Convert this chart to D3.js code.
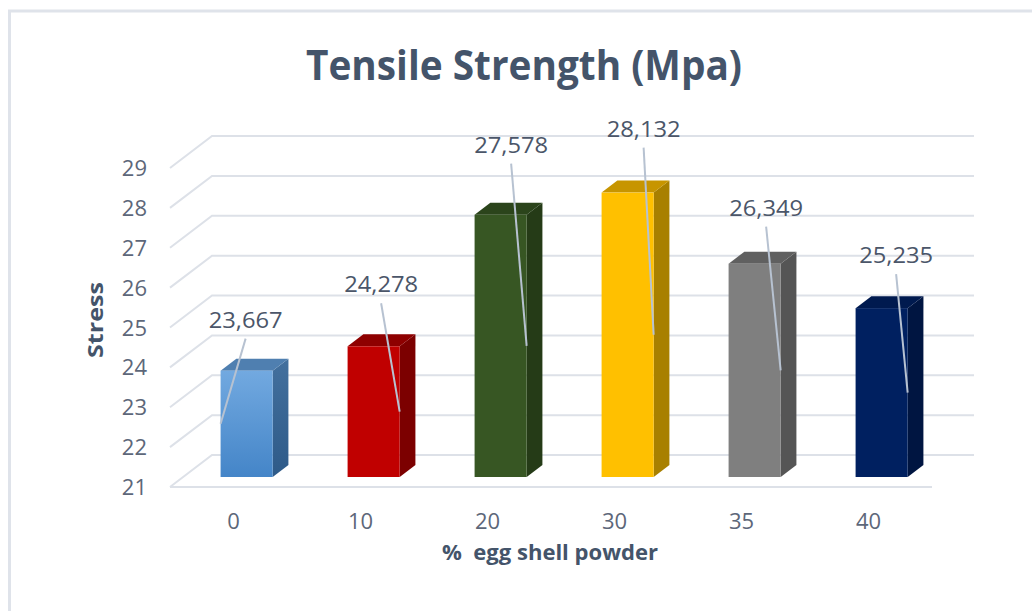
<!DOCTYPE html>
<html>
<head>
<meta charset="utf-8">
<script src="https://cdn.jsdelivr.net/npm/d3@7"></script>
<style>
  html, body { margin: 0; padding: 0; background: #ffffff; }
  svg { display: block; }
  text { font-family: "Open Sans", "Noto Sans", sans-serif; }
</style>
</head>
<body>
<svg id="chart" width="1032" height="611"></svg>
<script>
// Tensile strength of samples by egg shell powder content
const categories = ["0", "10", "20", "30", "35", "40"];
const stress = [23.667, 24.278, 27.578, 28.132, 26.349, 25.235];
const yTicks = [21, 22, 23, 24, 25, 26, 27, 28, 29];

// Front / side / top face colours of each column
const frontColors = ["url(#blueGrad)", "#c00000", "#375623", "#ffc000", "#7f7f7f", "#002060"];
const sideColors  = ["url(#blueSide)", "#7c0000", "#253b17", "#a88000", "#555555", "#001541"];
const topColors   = ["#4f7fb0", "#8e0000", "#2b441b", "#c79500", "#606060", "#001a4f"];

// Label placement relative to the top-centre of each column's front face
const labelNudge = [[-1, -51], [7.5, -62], [10.5, -70], [16, -64], [11.5, -56], [14.5, -53]];
// Which edge of the front face each leader line ends on
const leaderEdge = ["left", "right", "right", "right", "right", "right"];

const svg = d3.select("#chart");
const defs = svg.append("defs");
const g1 = defs.append("linearGradient").attr("id", "blueGrad").attr("x1", 0).attr("y1", 0).attr("x2", 0).attr("y2", 1);
g1.append("stop").attr("offset", "0%").attr("stop-color", "#72a9e0");
g1.append("stop").attr("offset", "100%").attr("stop-color", "#4485c8");
const g2 = defs.append("linearGradient").attr("id", "blueSide").attr("x1", 0).attr("y1", 0).attr("x2", 0).attr("y2", 1);
g2.append("stop").attr("offset", "0%").attr("stop-color", "#43709e");
g2.append("stop").attr("offset", "100%").attr("stop-color", "#2e5a88");

// Chart frame
svg.append("line").attr("x1", 8).attr("y1", 11).attr("x2", 1032).attr("y2", 11)
  .attr("stroke", "#dfe3ea").attr("stroke-width", 3);
svg.append("line").attr("x1", 9.5).attr("y1", 10).attr("x2", 9.5).attr("y2", 611)
  .attr("stroke", "#dfe3ea").attr("stroke-width", 3);

// Oblique 3D projection: front plane scales plus a depth offset
const x = d3.scaleBand().domain(categories).range([170, 932]).paddingInner(0.59).paddingOuter(0.295);
const y = d3.scaleLinear().domain([21, 29]).range([487, 168]);
const DX = 42, DY = -32;           // full depth of the floor
const F0 = 0.3125, F1 = 0.6875;    // depth slice occupied by the columns
const proj = (px, v, f) => [px + DX * f, y(v) + DY * f];
const backRight = 932 + DX;

// Gridlines: left wall diagonals + back wall horizontals
const grid = svg.append("g");
yTicks.forEach(t => {
  grid.append("path")
    .attr("d", `M170,${y(t)} L${170 + DX},${y(t) + DY} L${backRight},${y(t) + DY}`)
    .attr("fill", "none").attr("stroke", "#dde1e8").attr("stroke-width", 2);
});
// Floor front edge
grid.append("line").attr("x1", 170).attr("y1", y(21)).attr("x2", 932).attr("y2", y(21))
  .attr("stroke", "#dde1e8").attr("stroke-width", 2);

// Y tick labels
svg.append("g").selectAll("text").data(yTicks).join("text")
  .attr("x", 147).attr("y", d => y(d) + 8)
  .attr("text-anchor", "end").attr("font-size", 22).attr("fill", "#5d6779")
  .text(d => d);

// X tick labels
svg.append("g").selectAll("text").data(categories).join("text")
  .attr("x", d => x(d) + x.bandwidth() / 2).attr("y", 529)
  .attr("text-anchor", "middle").attr("font-size", 22).attr("fill", "#5d6779")
  .text(d => d);

// Columns
const bars = svg.append("g");
categories.forEach((c, i) => {
  const v = stress[i];
  const x0 = x(c), x1 = x(c) + x.bandwidth();
  const pts = a => a.map(p => p.join(",")).join(" ");
  // side face
  bars.append("polygon")
    .attr("points", pts([proj(x1, 21, F0), proj(x1, v, F0), proj(x1, v, F1), proj(x1, 21, F1)]))
    .attr("fill", sideColors[i]);
  // top face
  bars.append("polygon")
    .attr("points", pts([proj(x0, v, F0), proj(x1, v, F0), proj(x1, v, F1), proj(x0, v, F1)]))
    .attr("fill", topColors[i]);
  // front face
  const [fx0, fy0] = proj(x0, v, F0);
  const [fx1, fy1] = proj(x1, 21, F0);
  bars.append("rect")
    .attr("x", fx0).attr("y", fy0).attr("width", fx1 - fx0).attr("height", fy1 - fy0)
    .attr("fill", frontColors[i]);
});

// Data labels with leader lines
const fmt = v => d3.format(".3f")(v).replace(".", ",");
const labels = svg.append("g");
categories.forEach((c, i) => {
  const v = stress[i];
  const [fx0, fyTop] = proj(x(c), v, F0);
  const fx1 = fx0 + x.bandwidth();
  const fyBot = proj(x(c), 21, F0)[1];
  const cx = (fx0 + fx1) / 2 + labelNudge[i][0];
  const cy = fyTop + labelNudge[i][1];
  const ex = leaderEdge[i] === "left" ? fx0 : fx1;
  const ey = (fyTop + fyBot) / 2;
  labels.append("line")
    .attr("x1", cx).attr("y1", cy + 19).attr("x2", ex).attr("y2", ey)
    .attr("stroke", "#b7c2d1").attr("stroke-width", 2);
  labels.append("text")
    .attr("x", cx).attr("y", cy + 8)
    .attr("text-anchor", "middle").attr("font-size", 22).attr("fill", "#4b5669")
    .attr("textLength", 74).attr("lengthAdjust", "spacingAndGlyphs")
    .text(fmt(v));
});

// Title
svg.append("text")
  .attr("x", 524).attr("y", 80)
  .attr("text-anchor", "middle").attr("font-size", 41).attr("font-weight", 700)
  .attr("fill", "#44546a")
  .attr("textLength", 436).attr("lengthAdjust", "spacingAndGlyphs")
  .text("Tensile Strength (Mpa)");

// Axis titles
svg.append("text")
  .attr("x", 550).attr("y", 560)
  .attr("text-anchor", "middle").attr("font-size", 21).attr("font-weight", 700)
  .attr("fill", "#44546a")
  .style("white-space", "pre")
  .attr("textLength", 216).attr("lengthAdjust", "spacingAndGlyphs")
  .text("%  egg shell powder");

svg.append("text")
  .attr("transform", "translate(103,320) rotate(-90)")
  .attr("text-anchor", "middle").attr("font-size", 21).attr("font-weight", 700)
  .attr("fill", "#44546a")
  .attr("textLength", 76).attr("lengthAdjust", "spacingAndGlyphs")
  .text("Stress");
</script>
</body>
</html>
